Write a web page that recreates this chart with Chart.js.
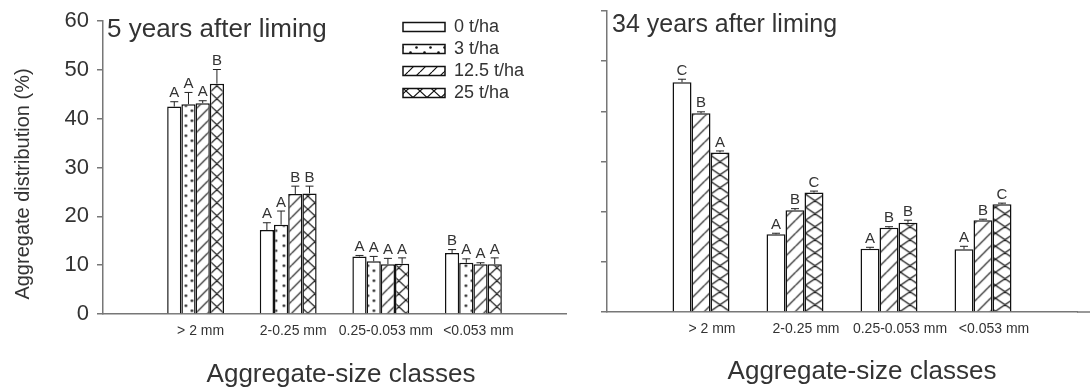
<!DOCTYPE html>
<html>
<head>
<meta charset="utf-8">
<title>Aggregate distribution after liming</title>
<script src="https://cdn.jsdelivr.net/npm/chart.js@4.4.1/dist/chart.umd.min.js"></script>
<style>
  body { margin: 0; background: #fff; }
  #wrap { position: relative; width: 1090px; height: 390px; }
  #chartLeft { position: absolute; left: 0; top: 0; }
  #chartRight { position: absolute; left: 575px; top: 0; }
</style>
</head>
<body>
<div id="wrap">
  <canvas id="chartLeft" width="575" height="390"></canvas>
  <canvas id="chartRight" width="515" height="390"></canvas>
</div>
<script>
const sizeClasses = ['> 2 mm', '2-0.25 mm', '0.25-0.053 mm', '<0.053 mm'];
const rates = ['0 t/ha', '3 t/ha', '12.5 t/ha', '25 t/ha'];
const yMin = 0, yMax = 60, yStep = 10;

// 5 years after liming: means, standard errors and letters for each lime rate
const yr5Lime0 = [42.5, 17.2, 11.8, 12.5];
const yr5Lime3 = [43.0, 18.3, 10.8, 10.5];
const yr5Lime12 = [43.2, 24.6, 10.2, 10.2];
const yr5Lime25 = [47.2, 24.7, 10.3, 10.2];
const yr5Err0 = [1.0, 1.5, 0.2, 0.7];
const yr5Err3 = [2.4, 2.8, 1.0, 0.8];
const yr5Err12 = [0.5, 1.6, 1.2, 0.3];
const yr5Err25 = [2.9, 1.5, 1.2, 1.3];
const yr5Sig0 = ['A', 'A', 'A', 'B'];
const yr5Sig3 = ['A', 'A', 'A', 'A'];
const yr5Sig12 = ['A', 'B', 'A', 'A'];
const yr5Sig25 = ['B', 'B', 'A', 'A'];

// 34 years after liming (no 3 t/ha plots)
const yr34Lime0 = [45.8, 15.5, 12.6, 12.5];
const yr34Lime12 = [39.6, 20.3, 16.8, 18.3];
const yr34Lime25 = [31.8, 23.8, 17.8, 21.5];
const yr34Err0 = [0.6, 0.2, 0.3, 0.6];
const yr34Err12 = [0.3, 0.3, 0.2, 0.2];
const yr34Err25 = [0.3, 0.3, 0.5, 0.2];
const yr34Sig0 = ['C', 'A', 'A', 'A'];
const yr34Sig12 = ['B', 'B', 'B', 'B'];
const yr34Sig25 = ['A', 'C', 'B', 'C'];

const fontFamily = '"Liberation Sans", Arial, sans-serif';
Chart.defaults.font.family = fontFamily;
Chart.defaults.color = '#333';

// empty slot at each end so the groups sit one step in from the axes
const padEnds = arr => [null, ...arr, null];
const slotLabels = padEnds(sizeClasses).map(l => l || '');

function tile(w, h, paint) {
  const c = document.createElement('canvas');
  c.width = w; c.height = h;
  const g = c.getContext('2d');
  g.fillStyle = '#fff';
  g.fillRect(0, 0, w, h);
  g.strokeStyle = '#111';
  g.fillStyle = '#111';
  g.lineWidth = 1.2;
  paint(g, w, h);
  return g.createPattern(c, 'repeat');
}
const dots = (w, h) => tile(w, h, (g) => {
  g.beginPath(); g.arc(4.5, 2.5, 1.3, 0, Math.PI * 2); g.fill();
  g.beginPath(); g.arc(10.5, 7.5, 1.3, 0, Math.PI * 2); g.fill();
});
const diag = (w, h) => tile(w, h, (g) => {
  g.beginPath();
  for (let k = -1; k <= 1; k++) { g.moveTo(k * w, h); g.lineTo(k * w + w, 0); }
  g.stroke();
});
const cross = (w, h) => tile(w, h, (g) => {
  g.beginPath();
  for (let k = -1; k <= 1; k++) {
    g.moveTo(k * w, h); g.lineTo(k * w + w, 0);
    g.moveTo(k * w, 0); g.lineTo(k * w + w, h);
  }
  g.stroke();
});

function series(label, values, errs, sig, fill) {
  return {
    label: label,
    data: padEnds(values),
    se: padEnds(errs),
    sig: padEnds(sig),
    backgroundColor: fill,
    borderColor: '#111',
    borderWidth: 1.5
  };
}

// line the hatching up with the left/bottom edge of each series' bars
const alignPatterns = {
  id: 'alignPatterns',
  beforeDatasetsDraw(chart) {
    chart.data.datasets.forEach((ds, d) => {
      if (!(ds.backgroundColor instanceof CanvasPattern)) return;
      const meta = chart.getDatasetMeta(d);
      const el = meta.data.find((e, i) => ds.data[i] != null);
      if (!el) return;
      const p = el.getProps(['x', 'width', 'base'], true);
      ds.backgroundColor.setTransform(new DOMMatrix([1, 0, 0, 1, p.x - p.width / 2, p.base]));
    });
  }
};

// upper error whisker with cap and the significance letter above it
const errorBars = {
  id: 'errorBars',
  afterDatasetsDraw(chart) {
    const ctx = chart.ctx;
    const yScale = chart.scales.y;
    chart.data.datasets.forEach((ds, d) => {
      const meta = chart.getDatasetMeta(d);
      meta.data.forEach((el, i) => {
        const v = ds.data[i];
        if (v == null) return;
        const x = el.x;
        const top = yScale.getPixelForValue(v + ds.se[i]);
        ctx.save();
        ctx.strokeStyle = '#222';
        ctx.lineWidth = 1;
        ctx.beginPath();
        ctx.moveTo(x, el.y);
        ctx.lineTo(x, top);
        ctx.moveTo(x - 4, top);
        ctx.lineTo(x + 4, top);
        ctx.stroke();
        ctx.fillStyle = '#333';
        ctx.font = '15px ' + fontFamily;
        ctx.textAlign = 'center';
        ctx.textBaseline = 'bottom';
        ctx.fillText(ds.sig[i], x, top - 1);
        ctx.restore();
      });
    });
  }
};

// free text: panel titles and axis titles
const panelText = {
  id: 'panelText',
  afterDraw(chart, args, opts) {
    const ctx = chart.ctx;
    (opts.items || []).forEach(t => {
      ctx.save();
      ctx.font = t.size + 'px ' + fontFamily;
      ctx.fillStyle = '#333';
      ctx.textAlign = t.align;
      ctx.textBaseline = t.baseline;
      ctx.translate(t.x, t.y);
      if (t.rotate) ctx.rotate(t.rotate);
      ctx.fillText(t.text, 0, 0);
      ctx.restore();
    });
  }
};

// baseline runs on to the right edge of the canvas
const baselineTail = {
  id: 'baselineTail',
  afterDraw(chart, args, opts) {
    if (!opts.on) return;
    const ctx = chart.ctx;
    const a = chart.chartArea;
    ctx.save();
    ctx.strokeStyle = '#777';
    ctx.lineWidth = 1.5;
    ctx.beginPath();
    ctx.moveTo(a.right, a.bottom);
    ctx.lineTo(chart.width, a.bottom);
    ctx.stroke();
    ctx.restore();
  }
};

// move the in-plot legend to the upper right of the plot
const legendSpot = {
  id: 'legendSpot',
  afterLayout(chart, args, opts) {
    const lg = chart.legend;
    if (!lg || opts.left == null) return;
    lg.left = opts.left;
    lg.top = opts.top;
    lg.right = chart.chartArea.right;
    lg.bottom = chart.chartArea.bottom;
  }
};

function axes(yWidth, xHeight, showY, labelShift) {
  return {
    x: {
      offset: false,
      grid: { display: false, drawTicks: false },
      border: { color: '#777', width: 1.5 },
      ticks: { font: { size: 14 }, padding: 9, maxRotation: 0, autoSkip: false, labelOffset: labelShift },
      afterFit: s => { s.height = xHeight; }
    },
    y: {
      min: yMin,
      max: yMax,
      grid: { drawOnChartArea: false, drawTicks: true, tickLength: 6, color: '#777', lineWidth: 1.5 },
      border: { color: '#777', width: 1.5 },
      ticks: { stepSize: yStep, font: { size: 22 }, padding: 8, display: showY },
      afterFit: s => { s.width = yWidth; }
    }
  };
}

new Chart(document.getElementById('chartLeft'), {
  type: 'bar',
  data: {
    labels: slotLabels,
    datasets: [
      series(rates[0], yr5Lime0, yr5Err0, yr5Sig0, '#fff'),
      series(rates[1], yr5Lime3, yr5Err3, yr5Sig3, dots(14, 10)),
      series(rates[2], yr5Lime12, yr5Err12, yr5Sig12, diag(12, 12)),
      series(rates[3], yr5Lime25, yr5Err25, yr5Sig25, cross(14, 13))
    ]
  },
  options: {
    responsive: false,
    animation: false,
    datasets: { bar: { categoryPercentage: 0.614, barPercentage: 1 } },
    layout: { padding: { top: 15, right: 0, bottom: 0, left: 0 } },
    scales: axes(103, 76, true, 5),
    plugins: {
      tooltip: { enabled: false },
      legend: {
        position: 'chartArea',
        align: 'start',
        labels: { boxWidth: 42, boxHeight: 9, padding: 4, font: { size: 18 }, color: '#333' }
      },
      legendSpot: { left: 399, top: 14 },
      panelText: {
        items: [
          { text: '5 years after liming', x: 107, y: 37, size: 26, align: 'left', baseline: 'alphabetic' },
          { text: 'Aggregate distribution (%)', x: 23, y: 184, size: 20, align: 'center', baseline: 'middle', rotate: -Math.PI / 2 },
          { text: 'Aggregate-size classes', x: 341, y: 375, size: 26, align: 'center', baseline: 'middle' }
        ]
      },
      baselineTail: { on: false }
    }
  },
  plugins: [alignPatterns, errorBars, panelText, baselineTail, legendSpot]
});

new Chart(document.getElementById('chartRight'), {
  type: 'bar',
  data: {
    labels: slotLabels,
    datasets: [
      series(rates[0], yr34Lime0, yr34Err0, yr34Sig0, '#fff'),
      series(rates[2], yr34Lime12, yr34Err12, yr34Sig12, diag(13, 13)),
      series(rates[3], yr34Lime25, yr34Err25, yr34Sig25, cross(19, 13))
    ]
  },
  options: {
    responsive: false,
    animation: false,
    datasets: { bar: { categoryPercentage: 0.606, barPercentage: 1 } },
    layout: { padding: { top: 11, right: 13, bottom: 0, left: 0 } },
    scales: axes(32, 78, false, 11),
    plugins: {
      tooltip: { enabled: false },
      legend: { display: false },
      panelText: {
        items: [
          { text: '34 years after liming', x: 37, y: 32, size: 25, align: 'left', baseline: 'alphabetic' },
          { text: 'Aggregate-size classes', x: 287, y: 372, size: 26, align: 'center', baseline: 'middle' }
        ]
      },
      baselineTail: { on: true }
    }
  },
  plugins: [alignPatterns, errorBars, panelText, baselineTail, legendSpot]
});
</script>
</body>
</html>
